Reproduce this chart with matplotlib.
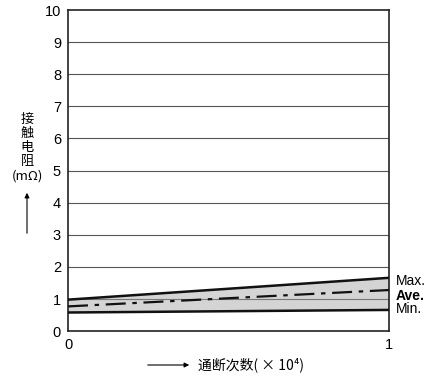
import matplotlib
matplotlib.use("Agg")
import matplotlib.pyplot as plt

plt.rcParams['font.family'] = ['Liberation Sans', 'Noto Sans CJK SC', 'DejaVu Sans']

x = [0, 1]
max_vals = [0.98, 1.66]
ave_vals = [0.77, 1.28]
min_vals = [0.58, 0.66]
yticks = [0, 1, 2, 3, 4, 5, 6, 7, 8, 9, 10]
xticks = [0, 1]
series_labels = ["Max.", "Ave.", "Min."]
ylabel_lines = ["接", "触", "电", "阻", "(mΩ)"]
xlabel_text = "通断次数( × 10⁴)"

fig = plt.figure(figsize=(4.43, 3.78), dpi=100)
ax = fig.add_axes([0.1535, 0.124, 0.7245, 0.8495])
ax.set_xlim(0, 1)
ax.set_ylim(0, 10)
for yv in yticks[1:-1]:
    ax.axhline(yv, color='#555555', lw=0.8, zorder=1)
ax.fill_between(x, min_vals, max_vals, color='#d4d4d4', zorder=2, lw=0)
ax.axhline(1, color='#777777', lw=0.8, zorder=2.5)
ax.plot(x, max_vals, color='#111111', lw=1.8, zorder=3)
ax.plot(x, min_vals, color='#111111', lw=1.8, zorder=3)
ax.plot(x, ave_vals, color='#111111', lw=1.6, zorder=3, dashes=(9, 3, 2, 3))
ax.set_yticks(yticks)
ax.set_xticks(xticks)
ax.tick_params(length=0, labelsize=10.5, pad=5)
for s in ax.spines.values():
    s.set_linewidth(1.2)
    s.set_color('#222222')

def fy(py):
    return 1 - py / 378

fig.text(396/443, fy(281), series_labels[0], fontsize=10, va='center', ha='left')
fig.text(396/443, fy(295.5), series_labels[1], fontsize=10, va='center', ha='left', fontweight='bold')
fig.text(396/443, fy(309), series_labels[2], fontsize=10, va='center', ha='left')

for i, s in enumerate(ylabel_lines):
    fig.text(27/443, fy(119 + 14.2 * i), s, ha='center', va='center', fontsize=9.5,
             family=['Noto Sans CJK SC', 'DejaVu Sans'])
fig.add_artist(matplotlib.patches.FancyArrowPatch((27/443, fy(236)), (27/443, fy(190)),
               transform=fig.transFigure, arrowstyle='-|>', mutation_scale=7, color='black', lw=0.8))
fig.add_artist(matplotlib.patches.FancyArrowPatch((145/443, fy(365)), (192/443, fy(365)),
               transform=fig.transFigure, arrowstyle='-|>', mutation_scale=7, color='black', lw=0.8))
fig.text(198/443, fy(365), xlabel_text, ha='left', va='center', fontsize=10,
         family=['Noto Sans CJK SC', 'DejaVu Sans'])

fig.savefig("out.png", dpi=100)
